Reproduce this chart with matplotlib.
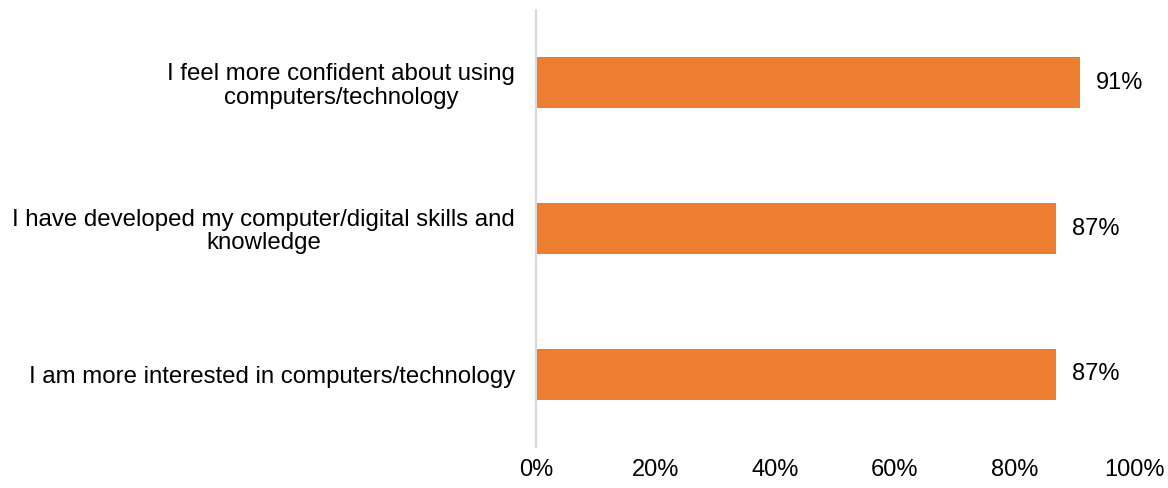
import matplotlib.pyplot as plt
import numpy as np

plt.rcParams['font.family'] = ['Liberation Sans', 'DejaVu Sans']

# statements, top to bottom
labels = ['I feel more confident about using\ncomputers/technology',
          'I have developed my computer/digital skills and\nknowledge',
          'I am more interested in computers/technology']
values = [91, 87, 87]
xticks = [0, 20, 40, 60, 80, 100]

fig = plt.figure(figsize=(11.68, 4.88), dpi=100)
ax = fig.add_axes([536 / 1168, 1 - 447 / 488, (1134 - 536) / 1168, 437 / 488])

y = np.arange(len(labels))
bars = ax.barh(y, values, height=0.35, color='#ED7D31')
ax.set_ylim(len(labels) - 0.5, -0.5)
ax.set_xlim(0, 100)

ax.set_yticks(y)
ax.set_yticklabels(labels, fontsize=17.3, multialignment='center', linespacing=1.08)
ax.set_xticks(xticks)
ax.set_xticklabels([f'{t}%' for t in xticks], fontsize=17)
ax.tick_params(axis='both', length=0)
ax.tick_params(axis='y', pad=15)
ax.tick_params(axis='x', pad=8.5)

for s in ['top', 'right', 'bottom']:
    ax.spines[s].set_visible(False)
ax.spines['left'].set_color('#d9d9d9')
ax.spines['left'].set_linewidth(1.5)

for b, v in zip(bars, values):
    ax.annotate(f'{v}%', (b.get_width(), b.get_y() + b.get_height() / 2),
                xytext=(11.5, 0), textcoords='offset points',
                va='center', ha='left', fontsize=17)

fig.savefig('out.png', dpi=100)
